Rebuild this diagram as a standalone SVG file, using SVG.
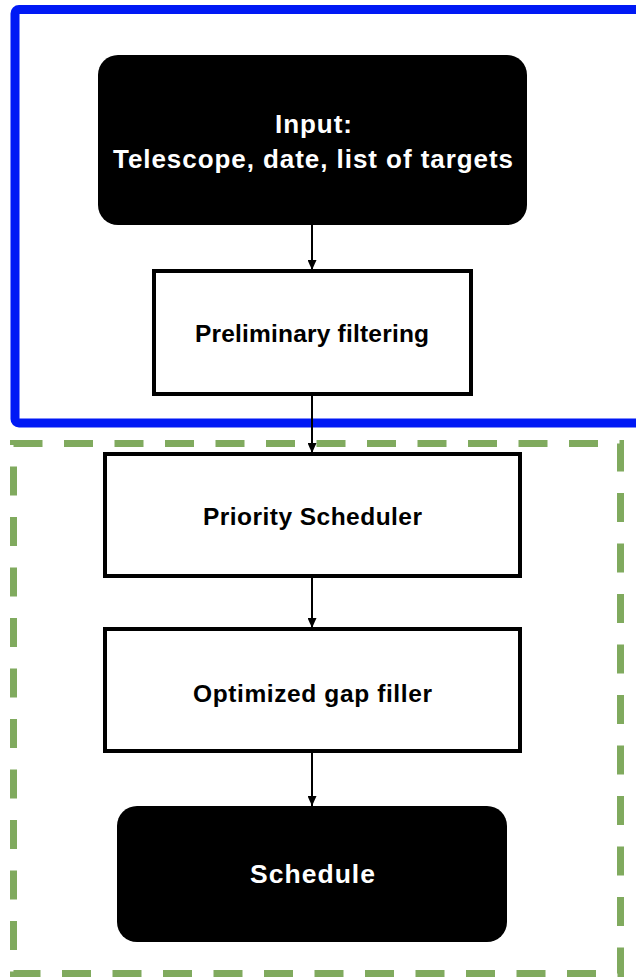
<svg xmlns="http://www.w3.org/2000/svg" width="636" height="979" viewBox="0 0 636 979">
<style>
.lbl{font-family:"Liberation Sans",Arial,Helvetica,sans-serif;font-weight:bold;text-anchor:middle}
.box{fill:#fff;stroke:#000;stroke-width:4}
.term{fill:#000}
.conn{stroke:#000;stroke-width:2;fill:none}
</style>
<defs>
<marker id="ah" markerWidth="10" markerHeight="9" refX="10" refY="4.5" orient="auto" markerUnits="userSpaceOnUse">
<path d="M0,0 L10,4.5 L0,9 Z" fill="#000"/>
</marker>
</defs>
<rect width="636" height="979" fill="#fff"/>
<g id="containers">
<rect id="blue-frame" x="15" y="9.5" width="640" height="413.5" rx="4" fill="none" stroke="#0019f5" stroke-width="9"/>
<rect id="green-frame" x="13.5" y="443.5" width="607" height="530" fill="none" stroke="#80aa5e" stroke-width="7" stroke-dasharray="29 21.5"/>
</g>
<g id="input">
<rect class="term" x="98" y="55" width="429" height="170" rx="20"/>
<text class="lbl" x="313.5" y="133" font-size="26" fill="#fff" textLength="77" lengthAdjust="spacing">Input:</text>
<text class="lbl" x="313" y="168" font-size="26" fill="#fff" textLength="400" lengthAdjust="spacing">Telescope, date, list of targets</text>
</g>
<g id="filtering">
<rect class="box" x="154" y="271" width="317" height="123"/>
<text class="lbl" x="312" y="342" font-size="24.5" fill="#000" textLength="234" lengthAdjust="spacing">Preliminary filtering</text>
</g>
<g id="priority">
<rect class="box" x="105" y="454" width="415" height="122"/>
<text class="lbl" x="312.5" y="525" font-size="24.5" fill="#000" textLength="219" lengthAdjust="spacing">Priority Scheduler</text>
</g>
<g id="gapfiller">
<rect class="box" x="105" y="629" width="415" height="122"/>
<text class="lbl" x="312.5" y="702" font-size="24.5" fill="#000" textLength="239" lengthAdjust="spacing">Optimized gap filler</text>
</g>
<g id="schedule">
<rect class="term" x="117" y="806" width="390" height="136" rx="20"/>
<text class="lbl" x="312.5" y="883" font-size="26.5" fill="#fff" textLength="125" lengthAdjust="spacing">Schedule</text>
</g>
<g id="connectors">
<line class="conn" x1="312" y1="225" x2="312" y2="270" marker-end="url(#ah)"/>
<line class="conn" x1="312" y1="396" x2="312" y2="453" marker-end="url(#ah)"/>
<line class="conn" x1="312" y1="578" x2="312" y2="628" marker-end="url(#ah)"/>
<line class="conn" x1="312" y1="753" x2="312" y2="806" marker-end="url(#ah)"/>
</g>
</svg>
